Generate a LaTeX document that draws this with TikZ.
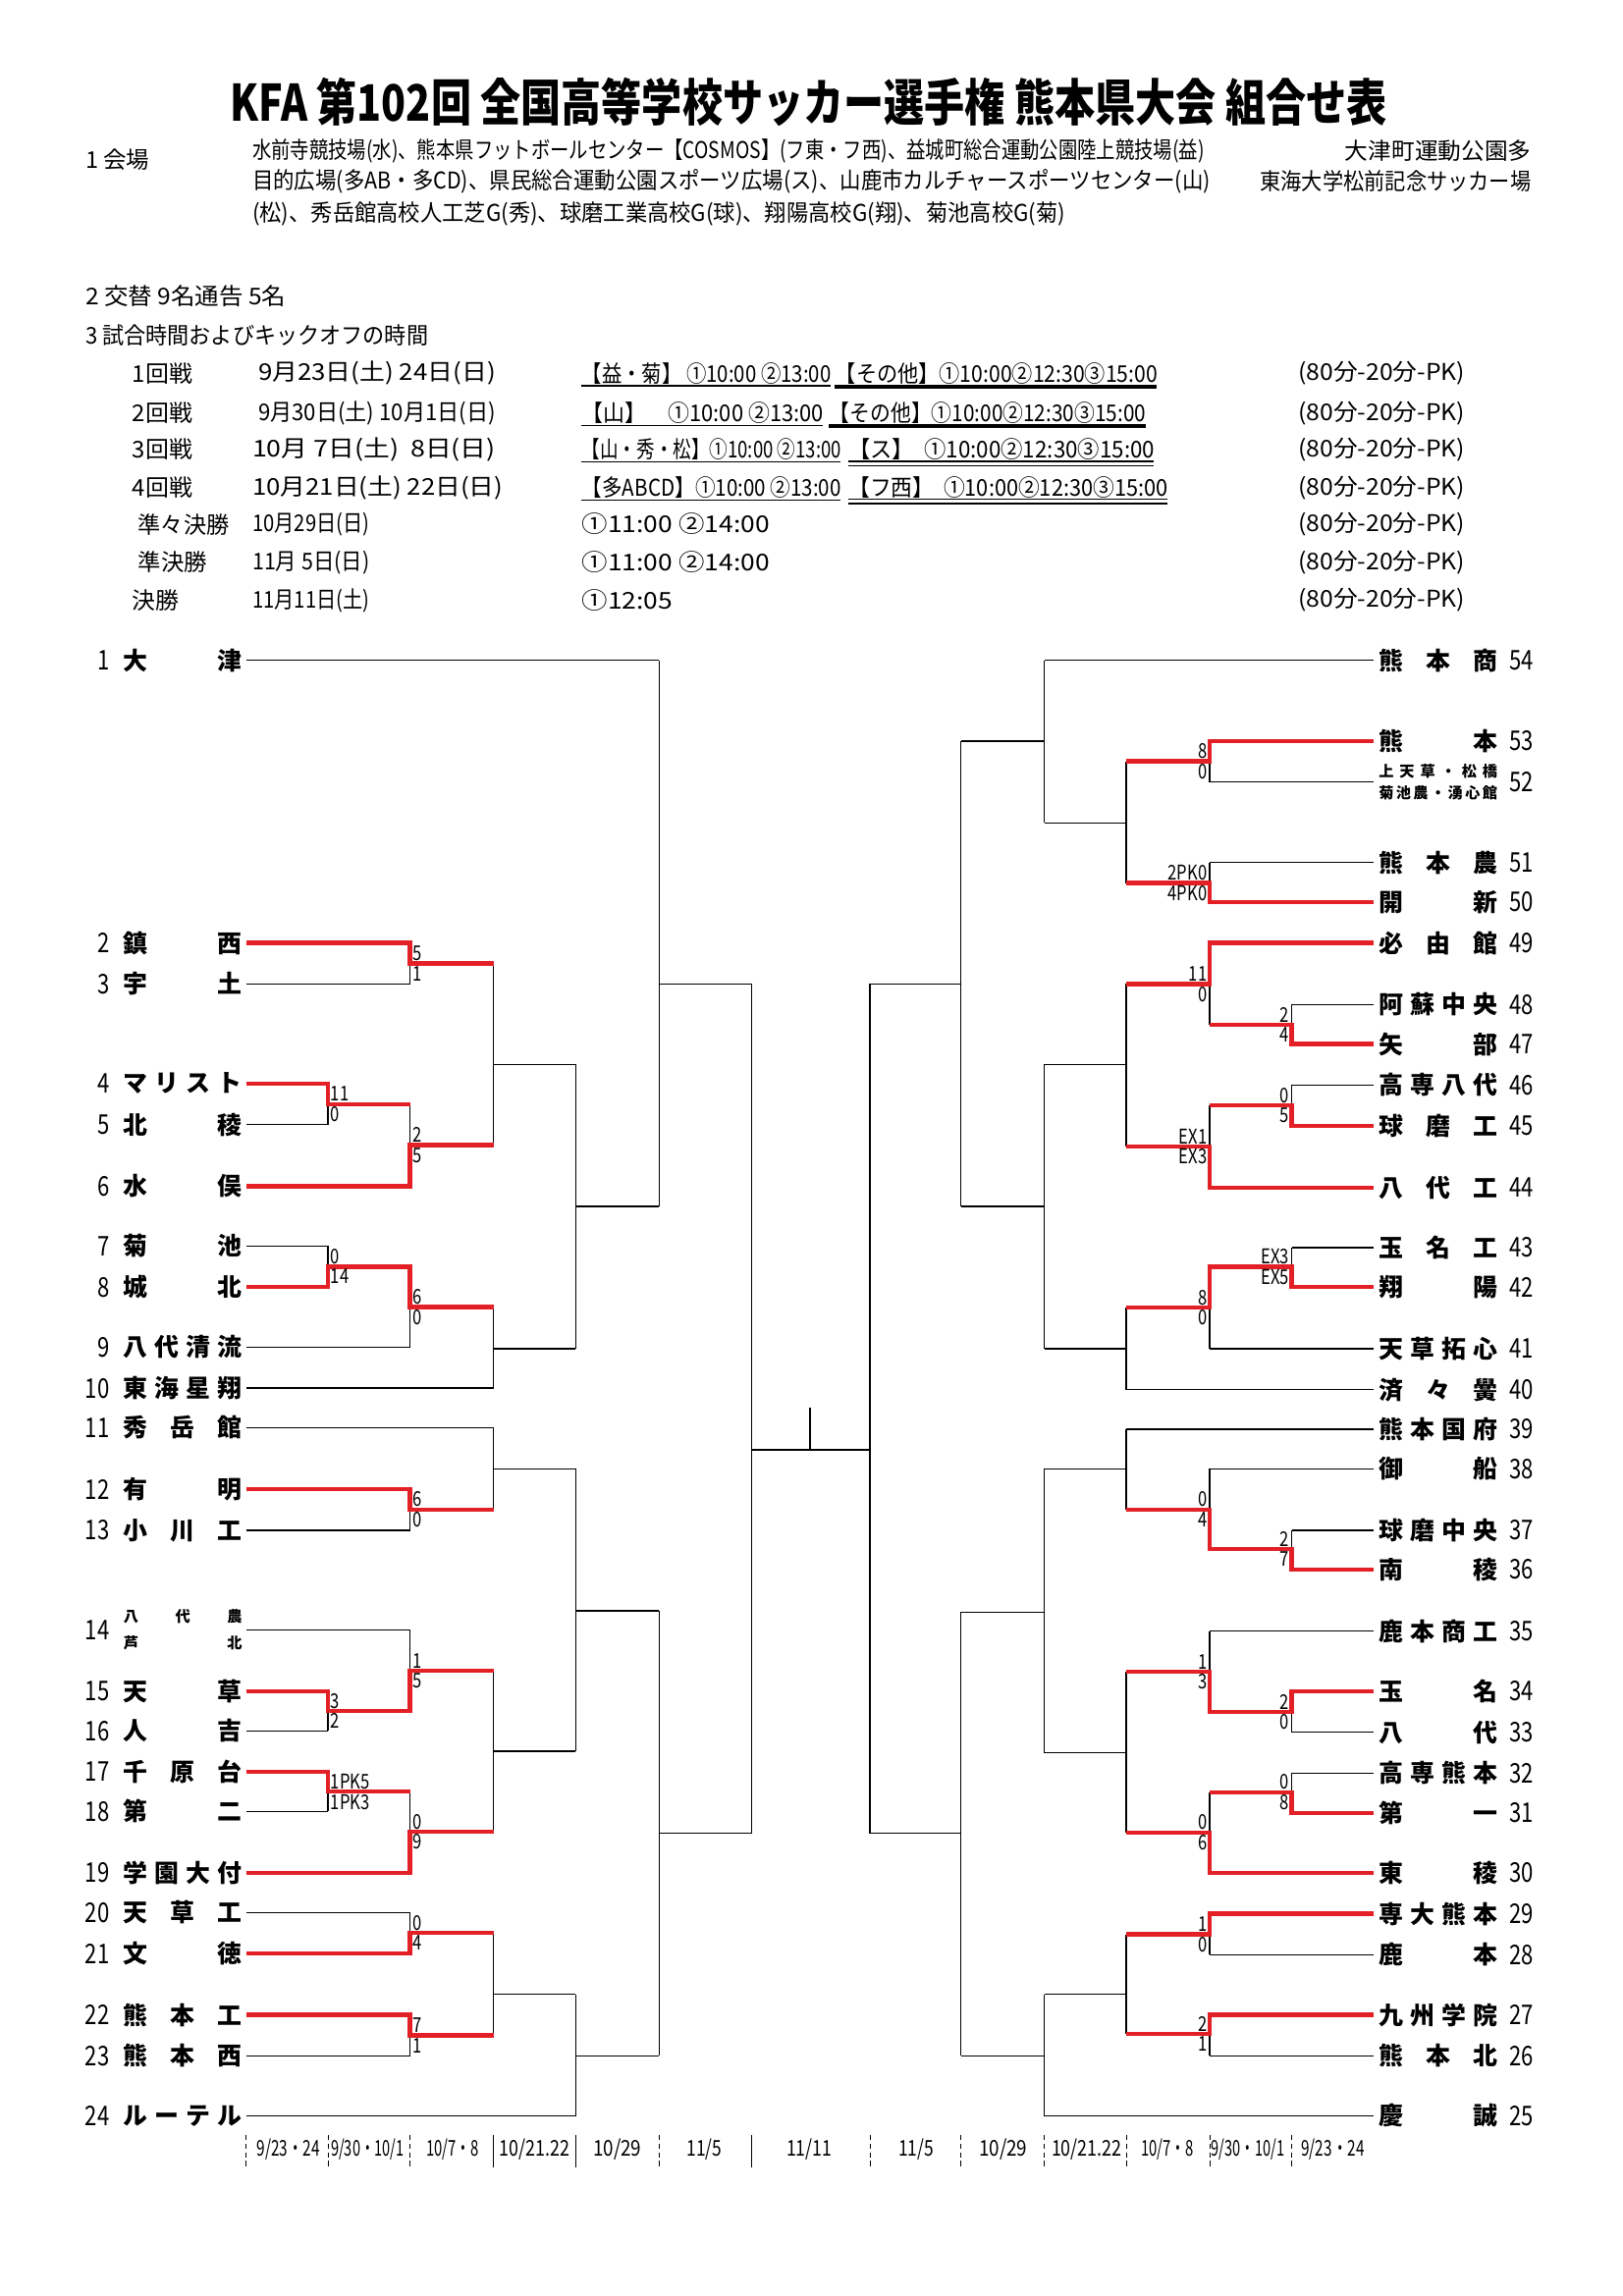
\documentclass[tikz,border=0pt]{standalone}
\usepackage{fontspec}
\usepackage{graphicx}
\setmainfont{Noto Sans CJK JP}
\newfontfamily\jpc{Noto Sans CJK JP}[FakeStretch=0.8]
\newlength\un
\setlength\un{0.18953mm}
\newcommand\fit[2]{\resizebox{#1\un}{\height}{#2}}
\definecolor{wred}{RGB}{226,32,38}
\newcommand\lteam[3]{\node[num,anchor=east] (ln#1) at (75,#2) {#1};\node[tn] (lt#1) at (84,#2) {\makebox[81\un]{#3}};}
\newcommand\rteam[3]{\node[tn] (rt#1) at (941,#2) {\makebox[81\un]{#3}};\node[num,anchor=west] (rn#1) at (1030,#2) {#1};}
\newcommand\mt[5]{\draw[bl] (#1,#2) -- (#1,#3) (#1,#4) -- (#5,#4);}
\newcommand\lsc[4]{\node[sc,anchor=south west] at (#1,#2) {#3};\node[sc,anchor=north west] at (#1,#2) {#4};}
\newcommand\rsc[4]{\node[sc,anchor=south east] at (#1,#2) {#3};\node[sc,anchor=north east] at (#1,#2) {#4};}
\newcommand\lln[2]{\draw[bl] (168,#1) -- (#2,#1);}
\newcommand\rln[2]{\draw[bl] (938,#1) -- (#2,#1);}
\begin{document}
\begin{tikzpicture}[x=0.18953mm,y=-0.18953mm,
  bl/.style={line width=0.5pt,black},
  rd/.style={line width=1.6pt,wred,line join=miter},
  tn/.style={font=\fontsize{9}{9}\selectfont\bfseries,inner sep=0pt,anchor=west},
  tns/.style={font=\fontsize{5.5}{5.5}\selectfont\bfseries,inner sep=0pt,anchor=west},
  num/.style={font=\jpc\fontsize{10}{10}\selectfont,inner sep=0pt},
  sc/.style={font=\jpc\fontsize{7.5}{7.5}\selectfont,inner sep=0.8pt},
  sch/.style={anchor=west,inner sep=0pt,font=\fontsize{8.5}{8.5}\selectfont},
  dtf/.style={inner sep=0pt,font=\fontsize{8}{8}\selectfont},
  sep/.style={line width=0.4pt,black,dash pattern=on 2pt off 1.2pt},
  sepsolid/.style={line width=0.4pt,black}]
\fill[white] (0,0) rectangle (1108,1568);
\useasboundingbox (0,0) rectangle (1108,1568);
% ---------- title ----------
\node[inner sep=0pt,font=\fontsize{18.5}{18.5}\selectfont\bfseries] (title) at (552,70) {\fit{790}{KFA 第102回 全国高等学校サッカー選手権 熊本県大会 組合せ表}};
% ---------- venues ----------
\node[sch] (h1) at (58,109) {1 会場};
\node[sch] (v1a) at (172,103) {\fit{650}{水前寺競技場(水)、熊本県フットボールセンター【COSMOS】(フ東・フ西)、益城町総合運動公園陸上競技場(益)}};
\node[sch] (v1b) at (918,103) {\fit{127}{大津町運動公園多}};
\node[sch] (v2a) at (172,124) {\fit{654}{目的広場(多AB・多CD)、県民総合運動公園スポーツ広場(ス)、山鹿市カルチャースポーツセンター(山)}};
\node[sch] (v2b) at (860,124) {\fit{185}{東海大学松前記念サッカー場}};
\node[sch] (v3) at (172,146) {\fit{555}{(松)、秀岳館高校人工芝G(秀)、球磨工業高校G(球)、翔陽高校G(翔)、菊池高校G(菊)}};
\node[sch] (h2) at (58,202) {\fit{137}{2 交替 9名通告 5名}};
\node[sch] (h3) at (58,229) {\fit{234}{3 試合時間およびキックオフの時間}};
% ---------- schedule ----------
\node[sch] (r1a) at (90,255) {\fit{41}{1回戦}};
\node[sch] (r2a) at (90,282) {\fit{41}{2回戦}};
\node[sch] (r3a) at (90,307) {\fit{41}{3回戦}};
\node[sch] (r4a) at (90,333) {\fit{41}{4回戦}};
\node[sch] (r5a) at (94,358) {\fit{62}{準々決勝}};
\node[sch] (r6a) at (94,384) {\fit{47}{準決勝}};
\node[sch] (r7a) at (90,410) {\fit{32}{決勝}};
\node[sch] (r1b) at (176,255) {\fit{162}{9月23日(土) 24日(日)}};
\node[sch] (r2b) at (176,282) {\fit{162}{9月30日(土) 10月1日(日)}};
\node[sch] (r3b) at (172,307) {\fit{166}{10月 7日(土)\ \ 8日(日)}};
\node[sch] (r4b) at (172,333) {\fit{171}{10月21日(土) 22日(日)}};
\node[sch] (r5b) at (172,358) {\fit{80}{10月29日(日)}};
\node[sch] (r6b) at (172,384) {\fit{80}{11月\ 5日(日)}};
\node[sch] (r7b) at (172,410) {\fit{80}{11月11日(土)}};
\node[sch] (r1c) at (397,255) {\fit{170}{【益・菊】 ①10:00 ②13:00}};
\node[sch] (r1d) at (570,255) {\fit{220}{【その他】①10:00②12:30③15:00}};
\node[sch] (r2c) at (397,282) {\fit{165}{【山】\quad ①10:00 ②13:00}};
\node[sch] (r2d) at (566,282) {\fit{216}{【その他】①10:00②12:30③15:00}};
\node[sch] (r3c) at (397,307) {\fit{177}{【山・秀・松】①10:00 ②13:00}};
\node[sch] (r3d) at (579,307) {\fit{209}{【ス】\ \ ①10:00②12:30③15:00}};
\node[sch] (r4c) at (397,333) {\fit{177}{【多ABCD】①10:00 ②13:00}};
\node[sch] (r4d) at (579,333) {\fit{218}{【フ西】\ \ ①10:00②12:30③15:00}};
\node[sch] (r5c) at (397,358) {\fit{128}{①11:00 ②14:00}};
\node[sch] (r6c) at (397,384) {\fit{128}{①11:00 ②14:00}};
\node[sch] (r7c) at (397,410) {\fit{62}{①12:05}};
\foreach \yy/\nm in {255/p1,282/p2,307/p3,333/p4,358/p5,384/p6,410/p7}
  \node[sch] (\nm) at (886,\yy) {\fit{114}{(80分-20分-PK)}};
% underlines
\draw[line width=0.5pt] (397,263.5) -- (567,263.5) (397,290.5) -- (562,290.5) (397,315.5) -- (574,315.5) (397,341.5) -- (574,341.5);
\draw[line width=1.3pt] (570,264) -- (790,264) (566,291) -- (782,291);
\draw[line width=0.5pt] (579,315) -- (788,315) (579,318) -- (788,318) (579,341) -- (797,341) (579,344) -- (797,344);
% ---------- teams left ----------
\lteam{1}{451}{大\hfill 津}
\lteam{2}{644}{鎮\hfill 西}
\lteam{3}{672}{宇\hfill 土}
\lteam{4}{740}{マ\hfill リ\hfill ス\hfill ト}
\lteam{5}{768}{北\hfill 稜}
\lteam{6}{810}{水\hfill 俣}
\lteam{7}{851}{菊\hfill 池}
\lteam{8}{879}{城\hfill 北}
\lteam{9}{920}{八\hfill 代\hfill 清\hfill 流}
\lteam{10}{948}{東\hfill 海\hfill 星\hfill 翔}
\lteam{11}{975}{秀\hfill 岳\hfill 館}
\lteam{12}{1017}{有\hfill 明}
\lteam{13}{1045}{小\hfill 川\hfill 工}
\node[num,anchor=east] (ln14) at (75,1113) {14};
\node[tns] (lt14) at (84,1104) {\makebox[81\un]{八\hfill 代\hfill 農}};
\node[tns] (lt14b) at (84,1122) {\makebox[81\un]{芦\hfill 北}};
\lteam{15}{1155}{天\hfill 草}
\lteam{16}{1182}{人\hfill 吉}
\lteam{17}{1210}{千\hfill 原\hfill 台}
\lteam{18}{1237}{第\hfill 二}
\lteam{19}{1279}{学\hfill 園\hfill 大\hfill 付}
\lteam{20}{1306}{天\hfill 草\hfill 工}
\lteam{21}{1334}{文\hfill 徳}
\lteam{22}{1376}{熊\hfill 本\hfill 工}
\lteam{23}{1404}{熊\hfill 本\hfill 西}
\lteam{24}{1445}{ル\hfill ー\hfill テ\hfill ル}
% ---------- teams right ----------
\rteam{54}{451}{熊\hfill 本\hfill 商}
\rteam{53}{506}{熊\hfill 本}
\node[tns] (rt52) at (941,526.5) {\makebox[81\un]{上\hfill 天\hfill 草\hfill ・\hfill 松\hfill 橋}};
\node[tns] (rt52b) at (941,541.5) {\makebox[81\un]{菊\hfill 池\hfill 農\hfill ・\hfill 湧\hfill 心\hfill 館}};
\node[num,anchor=west] (rn52) at (1030,534) {52};
\rteam{51}{589}{熊\hfill 本\hfill 農}
\rteam{50}{616}{開\hfill 新}
\rteam{49}{644}{必\hfill 由\hfill 館}
\rteam{48}{686}{阿\hfill 蘇\hfill 中\hfill 央}
\rteam{47}{713}{矢\hfill 部}
\rteam{46}{741}{高\hfill 専\hfill 八\hfill 代}
\rteam{45}{769}{球\hfill 磨\hfill 工}
\rteam{44}{811}{八\hfill 代\hfill 工}
\rteam{43}{852}{玉\hfill 名\hfill 工}
\rteam{42}{879}{翔\hfill 陽}
\rteam{41}{921}{天\hfill 草\hfill 拓\hfill 心}
\rteam{40}{949}{済\hfill 々\hfill 黌}
\rteam{39}{976}{熊\hfill 本\hfill 国\hfill 府}
\rteam{38}{1003}{御\hfill 船}
\rteam{37}{1045}{球\hfill 磨\hfill 中\hfill 央}
\rteam{36}{1072}{南\hfill 稜}
\rteam{35}{1114}{鹿\hfill 本\hfill 商\hfill 工}
\rteam{34}{1155}{玉\hfill 名}
\rteam{33}{1183}{八\hfill 代}
\rteam{32}{1211}{高\hfill 専\hfill 熊\hfill 本}
\rteam{31}{1238}{第\hfill 一}
\rteam{30}{1279}{東\hfill 稜}
\rteam{29}{1307}{専\hfill 大\hfill 熊\hfill 本}
\rteam{28}{1335}{鹿\hfill 本}
\rteam{27}{1376}{九\hfill 州\hfill 学\hfill 院}
\rteam{26}{1404}{熊\hfill 本\hfill 北}
\rteam{25}{1445}{慶\hfill 誠}
% ---------- left bracket (black) ----------
\lln{451}{450}\lln{644}{280}\lln{672}{280}\lln{740}{224}\lln{768}{224}\lln{810}{280}
\lln{851}{224}\lln{879}{224}\lln{920}{280}\lln{948}{337}\lln{975}{337}\lln{1017}{280}
\lln{1045}{280}\lln{1113}{280}\lln{1155}{224}\lln{1182}{224}\lln{1210}{224}\lln{1237}{224}
\lln{1279}{280}\lln{1306}{280}\lln{1334}{280}\lln{1376}{280}\lln{1404}{280}\lln{1445}{393}
\mt{224}{740}{768}{754}{280}
\mt{224}{851}{879}{865}{280}
\mt{224}{1155}{1182}{1168.5}{280}
\mt{224}{1210}{1237}{1223.5}{280}
\mt{280}{644}{672}{658}{337}
\mt{280}{754}{810}{782}{337}
\mt{280}{865}{920}{892.5}{337}
\mt{280}{1017}{1045}{1031}{337}
\mt{280}{1113}{1168.5}{1141}{337}
\mt{280}{1223.5}{1279}{1251}{337}
\mt{280}{1306}{1334}{1320}{337}
\mt{280}{1376}{1404}{1390}{337}
\mt{337}{658}{782}{727}{393}
\mt{337}{892.5}{948}{921}{393}
\mt{337}{975}{1031}{1003}{393}
\mt{337}{1141}{1251}{1196}{393}
\mt{337}{1320}{1390}{1362}{393}
\mt{393}{727}{921}{824}{450}
\mt{393}{1003}{1196}{1100}{450}
\mt{393}{1362}{1445}{1404}{450}
\mt{450}{451}{824}{672}{513}
\mt{450}{1100}{1404}{1252}{513}
\mt{513}{672}{1252}{990}{594}
% ---------- right bracket (black) ----------
\rln{451}{713}\rln{506}{826}\rln{534}{826}\rln{589}{826}\rln{616}{826}\rln{644}{826}
\rln{686}{882}\rln{713}{882}\rln{741}{882}\rln{769}{882}\rln{811}{826}\rln{852}{882}
\rln{879}{882}\rln{921}{826}\rln{949}{769}\rln{976}{769}\rln{1003}{826}\rln{1045}{882}
\rln{1072}{882}\rln{1114}{826}\rln{1155}{882}\rln{1183}{882}\rln{1211}{882}\rln{1238}{882}
\rln{1279}{826}\rln{1307}{826}\rln{1335}{826}\rln{1376}{826}\rln{1404}{826}\rln{1445}{713}
\mt{882}{686}{713}{700}{826}
\mt{882}{741}{769}{755}{826}
\mt{882}{852}{879}{865}{826}
\mt{882}{1045}{1072}{1058}{826}
\mt{882}{1155}{1183}{1169}{826}
\mt{882}{1211}{1238}{1224}{826}
\mt{826}{506}{534}{520}{769}
\mt{826}{589}{616}{603}{769}
\mt{826}{644}{700}{672}{769}
\mt{826}{755}{811}{783}{769}
\mt{826}{865}{921}{893}{769}
\mt{826}{1003}{1058}{1031}{769}
\mt{826}{1114}{1169}{1141.5}{769}
\mt{826}{1224}{1279}{1251.5}{769}
\mt{826}{1307}{1335}{1321}{769}
\mt{826}{1376}{1404}{1389}{769}
\mt{769}{520}{603}{562}{713}
\mt{769}{672}{783}{727}{713}
\mt{769}{893}{949}{921}{713}
\mt{769}{976}{1031}{1003}{713}
\mt{769}{1141.5}{1251.5}{1197}{713}
\mt{769}{1321}{1389}{1362}{713}
\mt{713}{451}{562}{506}{656}
\mt{713}{727}{921}{824}{656}
\mt{713}{1003}{1197}{1101}{656}
\mt{713}{1362}{1445}{1404}{656}
\mt{656}{506}{824}{672}{594}
\mt{656}{1101}{1404}{1252}{594}
\mt{594}{672}{1252}{990}{553}
\coordinate (champ) at (553,961);
\draw[bl] (553,990) -- (champ);
% ---------- red winner paths ----------
\draw[rd] (168,644) -- (280,644) -- (280,658) -- (337,658);
\draw[rd] (168,740) -- (224,740) -- (224,754) -- (280,754);
\draw[rd] (168,810) -- (280,810) -- (280,782) -- (337,782);
\draw[rd] (168,879) -- (224,879) -- (224,865) -- (280,865) -- (280,892.5) -- (337,892.5);
\draw[rd] (168,1017) -- (280,1017) -- (280,1031) -- (337,1031);
\draw[rd] (168,1155) -- (224,1155) -- (224,1168.5) -- (280,1168.5) -- (280,1141) -- (337,1141);
\draw[rd] (168,1210) -- (224,1210) -- (224,1223.5) -- (280,1223.5);
\draw[rd] (168,1279) -- (280,1279) -- (280,1251) -- (337,1251);
\draw[rd] (168,1334) -- (280,1334) -- (280,1320) -- (337,1320);
\draw[rd] (168,1376) -- (280,1376) -- (280,1390) -- (337,1390);
\draw[rd] (938,506) -- (826,506) -- (826,520) -- (769,520);
\draw[rd] (938,616) -- (826,616) -- (826,603) -- (769,603);
\draw[rd] (938,644) -- (826,644) -- (826,672) -- (769,672);
\draw[rd] (938,713) -- (882,713) -- (882,700) -- (826,700);
\draw[rd] (938,769) -- (882,769) -- (882,755) -- (826,755);
\draw[rd] (938,811) -- (826,811) -- (826,783) -- (769,783);
\draw[rd] (938,879) -- (882,879) -- (882,865) -- (826,865) -- (826,893) -- (769,893);
\draw[rd] (938,1072) -- (882,1072) -- (882,1058) -- (826,1058) -- (826,1031) -- (769,1031);
\draw[rd] (938,1155) -- (882,1155) -- (882,1169) -- (826,1169) -- (826,1141.5) -- (769,1141.5);
\draw[rd] (938,1238) -- (882,1238) -- (882,1224) -- (826,1224);
\draw[rd] (938,1279) -- (826,1279) -- (826,1251.5) -- (769,1251.5);
\draw[rd] (938,1307) -- (826,1307) -- (826,1321) -- (769,1321);
\draw[rd] (938,1376) -- (826,1376) -- (826,1389) -- (769,1389);
% ---------- scores ----------
\lsc{224}{754}{11}{0}
\lsc{224}{865}{0}{14}
\lsc{224}{1168.5}{3}{2}
\lsc{224}{1223.5}{1PK5}{1PK3}
\lsc{280}{658}{5}{1}
\lsc{280}{782}{2}{5}
\lsc{280}{892.5}{6}{0}
\lsc{280}{1031}{6}{0}
\lsc{280}{1141}{1}{5}
\lsc{280}{1251}{0}{9}
\lsc{280}{1320}{0}{4}
\lsc{280}{1390}{7}{1}
\rsc{882}{700}{2}{4}
\rsc{882}{755}{0}{5}
\rsc{882}{865}{EX3}{EX5}
\rsc{882}{1058}{2}{7}
\rsc{882}{1169}{2}{0}
\rsc{882}{1224}{0}{8}
\rsc{826}{520}{8}{0}
\rsc{826}{603}{2PK0}{4PK0}
\rsc{826}{672}{11}{0}
\rsc{826}{783}{EX1}{EX3}
\rsc{826}{893}{8}{0}
\rsc{826}{1031}{0}{4}
\rsc{826}{1141.5}{1}{3}
\rsc{826}{1251.5}{0}{6}
\rsc{826}{1321}{1}{0}
\rsc{826}{1389}{2}{1}
% ---------- date row ----------
\foreach \xx in {168,224,280,450,594,656,713,769,826,882}
  \draw[sep] (\xx,1458) -- (\xx,1480);
\foreach \xx in {337,393,513}
  \draw[sepsolid] (\xx,1458) -- (\xx,1480);
\node[dtf] (d1) at (197,1468) {\fit{43}{9/23・24}};
\node[dtf] (d2) at (251,1468) {\fit{50}{9/30・10/1}};
\node[dtf] (d3) at (309,1468) {\fit{36}{10/7・8}};
\node[dtf] (d4) at (365,1468) {\fit{48}{10/21.22}};
\node[dtf] (d5) at (421.5,1468) {\fit{33}{10/29}};
\node[dtf] (d6) at (481,1468) {\fit{24}{11/5}};
\node[dtf] (d7) at (552.5,1468) {\fit{31}{11/11}};
\node[dtf] (d8) at (625.5,1468) {\fit{24}{11/5}};
\node[dtf] (d9) at (685,1468) {\fit{33}{10/29}};
\node[dtf] (d10) at (742,1468) {\fit{48}{10/21.22}};
\node[dtf] (d11) at (797,1468) {\fit{36}{10/7・8}};
\node[dtf] (d12) at (852,1468) {\fit{50}{9/30・10/1}};
\node[dtf] (d13) at (910,1468) {\fit{43}{9/23・24}};
\end{tikzpicture}
\end{document}
